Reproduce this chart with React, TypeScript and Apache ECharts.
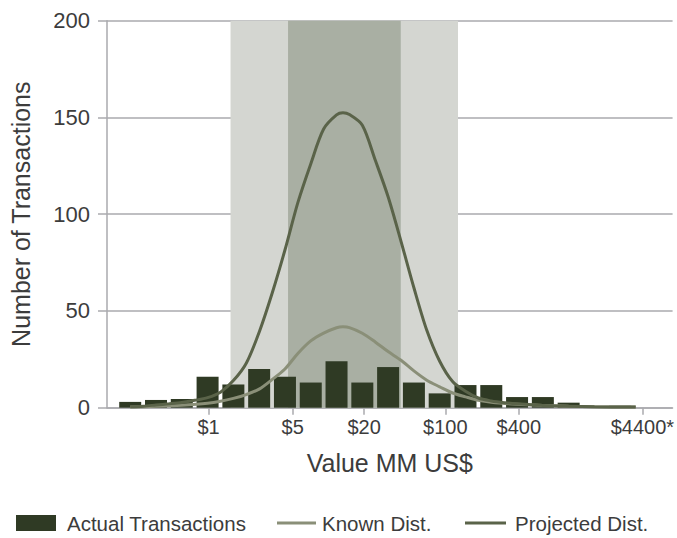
import React, { useEffect, useRef } from "react";
import * as echarts from "echarts";

// Bin centres (bar positions on the x value axis)
const binCenters = [1, 2, 3, 4, 5, 6, 7, 8, 9, 10, 11, 12, 13, 14, 15, 16, 17, 18, 19, 20];
const actualTransactions = [3, 4, 4.5, 16, 12, 20, 16, 13, 24, 13, 21, 13, 7.4, 11.7, 11.7, 5.5, 5.5, 2.6, 0, 1];

// Known distribution curve (x position, value)
const knownX = [1, 2, 3, 4, 4.5, 5, 5.5, 6, 6.5, 7, 7.5, 8, 8.5, 9, 9.25, 9.5, 10, 10.5, 11, 11.5, 12, 12.5, 13, 13.5, 14, 14.5, 15, 16, 17, 18, 19, 20.6];
const knownY = [0.3, 0.7, 1.3, 2.3, 3.3, 4.8, 6.8, 9.6, 14.5, 20, 28, 34.5, 38.5, 41.3, 41.8, 41.4, 38.5, 34, 29, 24.5, 19, 14.2, 10.8, 7.6, 5.6, 3.8, 2.8, 1.8, 1.2, 0.8, 0.5, 0.3];

// Projected distribution curve (x position, value)
const projectedX = [1, 1.5, 2, 2.5, 3, 3.5, 4, 4.5, 5, 5.5, 6, 6.5, 7, 7.5, 8, 8.5, 9, 9.25, 9.5, 10, 10.5, 11, 11.5, 12, 12.5, 13, 13.5, 14, 14.5, 15, 15.5, 16, 17, 18, 19, 20.6];
const projectedY = [0.5, 0.8, 1.4, 2, 2.7, 3.8, 5.2, 8, 14, 23, 39, 59, 81.5, 106, 126, 144, 151.3, 152.4, 151.5, 146, 128, 109, 86, 62, 40, 24, 13.5, 8.5, 5, 3.5, 2.6, 2, 1.2, 0.8, 0.5, 0.3];

// X-axis tick positions and labels
const tickPositions = [4.04, 7.3, 10.07, 13.22, 16.07, 20.86];
const tickLabels = ["$1", "$5", "$20", "$100", "$400", "$4400*"];

// Shaded ranges
const outerRange = [4.89, 13.71];
const innerRange = [7.12, 11.49];

const yTicks = [0, 50, 100, 150, 200];

const legendNames = ["Actual Transactions", "Known Dist.", "Projected Dist."];

const FONT = "'Liberation Sans', Arial, Helvetica, sans-serif";
const GRID_GRAY = "#aaaaae";
const TEXT = "#3c3c3c";
const BAR_COLOR = "#2f3a24";
const KNOWN_COLOR = "#8a8f78";
const PROJ_COLOR = "#5a6349";

export default function App() {
  const ref = useRef<HTMLDivElement>(null);

  useEffect(() => {
    if (!ref.current) return;
    const chart = echarts.init(ref.current, undefined, { renderer: "svg" });
    const legendY = 523;
    chart.setOption({
      animation: false,
      textStyle: { fontFamily: FONT },
      grid: { left: 105, right: 0, top: 20.7, bottom: 130.3, containLabel: false },
      graphic: [
        { type: "rect", shape: { x: 16, y: legendY - 8, width: 40, height: 16 }, style: { fill: BAR_COLOR }, silent: true },
        { type: "text", x: 67, y: legendY, style: { text: legendNames[0], fontSize: 20.5, fontFamily: FONT, fill: TEXT, verticalAlign: "middle" }, silent: true },
        { type: "line", shape: { x1: 277, y1: legendY, x2: 316, y2: legendY }, style: { stroke: KNOWN_COLOR, lineWidth: 3 }, silent: true },
        { type: "text", x: 322, y: legendY, style: { text: legendNames[1], fontSize: 20.5, fontFamily: FONT, fill: TEXT, verticalAlign: "middle" }, silent: true },
        { type: "line", shape: { x1: 465, y1: legendY, x2: 506, y2: legendY }, style: { stroke: PROJ_COLOR, lineWidth: 3 }, silent: true },
        { type: "text", x: 515, y: legendY, style: { text: legendNames[2], fontSize: 20.5, fontFamily: FONT, fill: TEXT, verticalAlign: "middle" }, silent: true },
      ],
      xAxis: {
        type: "value",
        min: 0.1,
        max: 22.03,
        name: "Value MM US$",
        nameLocation: "middle",
        nameGap: 43,
        nameTextStyle: { fontSize: 25, color: TEXT, fontFamily: FONT },
        axisLine: { show: true, onZero: false, lineStyle: { color: GRID_GRAY, width: 1.5 } },
        axisTick: { show: true, length: 7, customValues: tickPositions, lineStyle: { color: GRID_GRAY, width: 1.5 } },
        axisLabel: {
          customValues: tickPositions,
          fontSize: 20,
          color: TEXT,
          margin: 9,
          fontFamily: FONT,
          formatter: (v: number) => {
            let best = 0;
            for (let i = 1; i < tickPositions.length; i++) {
              if (Math.abs(tickPositions[i] - v) < Math.abs(tickPositions[best] - v)) best = i;
            }
            return tickLabels[best];
          },
        },
        splitLine: { show: false },
      },
      yAxis: {
        type: "value",
        min: yTicks[0],
        max: yTicks[yTicks.length - 1],
        interval: 50,
        name: "Number of Transactions",
        nameLocation: "middle",
        nameGap: 74,
        nameTextStyle: { fontSize: 25, color: TEXT, fontFamily: FONT },
        axisLine: { show: true, lineStyle: { color: GRID_GRAY, width: 1.5 } },
        axisTick: { show: true, length: 9, lineStyle: { color: GRID_GRAY, width: 1.5 } },
        axisLabel: { fontSize: 22, color: TEXT, margin: 17, fontFamily: FONT },
        splitLine: { show: true, lineStyle: { color: GRID_GRAY, width: 1.5 } },
      },
      series: [
        {
          name: "shade",
          type: "line",
          data: [],
          z: -1,
          silent: true,
          markArea: {
            silent: true,
            data: [
              [
                { xAxis: outerRange[0], itemStyle: { color: "#d4d6d1" } },
                { xAxis: outerRange[1] },
              ],
              [
                { xAxis: innerRange[0], itemStyle: { color: "#a9afa3" } },
                { xAxis: innerRange[1] },
              ],
            ],
          },
        },
        {
          name: legendNames[0],
          type: "bar",
          barWidth: 22,
          itemStyle: { color: BAR_COLOR },
          data: binCenters.map((x, i) => [x, actualTransactions[i]]),
          z: 2,
        },
        {
          name: legendNames[1],
          type: "line",
          smooth: 0.3,
          symbol: "none",
          lineStyle: { color: KNOWN_COLOR, width: 3 },
          itemStyle: { color: KNOWN_COLOR },
          data: knownX.map((x, i) => [x, knownY[i]]),
          z: 3,
        },
        {
          name: legendNames[2],
          type: "line",
          smooth: 0.3,
          symbol: "none",
          lineStyle: { color: PROJ_COLOR, width: 3 },
          itemStyle: { color: PROJ_COLOR },
          data: projectedX.map((x, i) => [x, projectedY[i]]),
          z: 4,
        },
      ],
    });
    return () => chart.dispose();
  }, []);

  return (
    <div
      ref={ref}
      style={{ position: "fixed", left: 0, top: 0, width: 677, height: 538, background: "#fff" }}
    />
  );
}
